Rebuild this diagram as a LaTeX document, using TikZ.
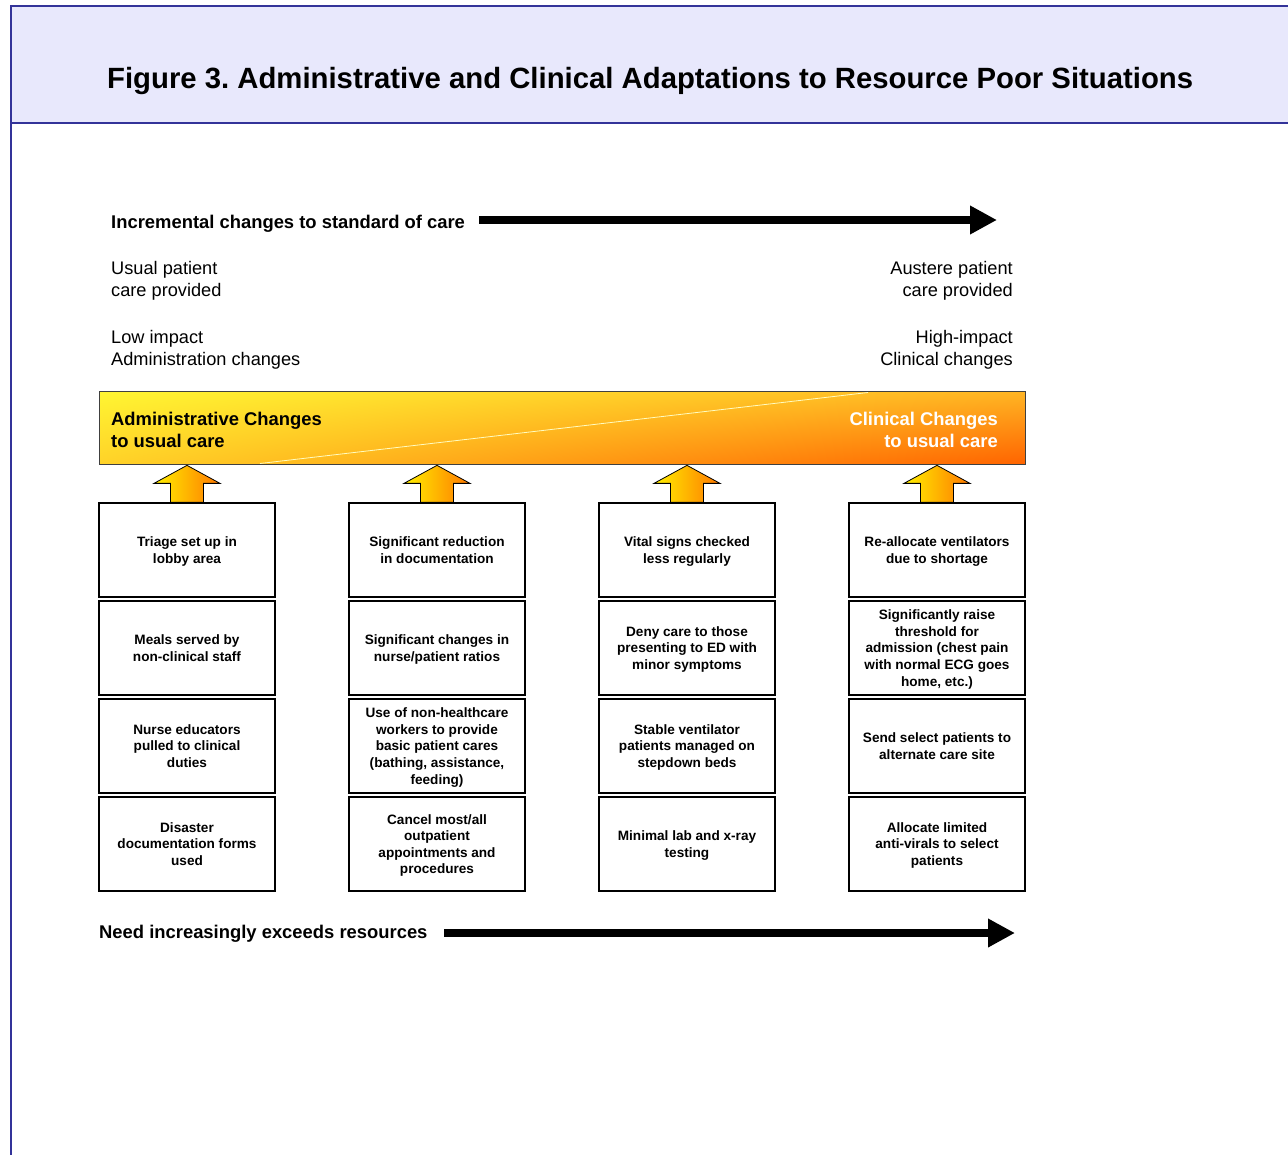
\documentclass[tikz,border=0pt]{standalone}
\usepackage{fontspec}
\setmainfont{Liberation Sans}
\usetikzlibrary{arrows.meta,shadings}
\frenchspacing
\definecolor{hdrfill}{RGB}{232,232,252}
\definecolor{hdrline}{RGB}{51,51,153}
\definecolor{yel}{RGB}{255,245,50}
\definecolor{yelor}{RGB}{255,210,40}
\definecolor{oryel}{RGB}{255,180,35}
\definecolor{orn}{RGB}{255,100,0}
\definecolor{arrY}{RGB}{255,240,0}
\definecolor{arrO}{RGB}{255,120,0}
\tikzset{
  cbox/.style={draw=black, line width=1.3pt, minimum width=176pt, minimum height=94pt,
    align=center, inner sep=0pt, text depth=0pt, font=\fontsize{13.6}{16.6}\selectfont\bfseries},
  lbl/.style={anchor=base west, inner sep=0pt, font=\fontsize{18.2}{22}\selectfont},
  rlbl/.style={anchor=base east, inner sep=0pt, font=\fontsize{18.2}{22}\selectfont},
  bnr/.style={inner sep=0pt, font=\fontsize{18.4}{22}\selectfont\bfseries},
  blockarrow/.style={draw=black, line width=0.8pt, left color=arrY, right color=arrO},
  bigarrow/.style={line width=8pt, -{Triangle[length=27pt,width=27pt]}}
}
\begin{document}
\begin{tikzpicture}[x=1pt,y=-1pt]
\useasboundingbox (0,0) rectangle (1288,1155);
% header
\fill[hdrfill] (11,6) rectangle (1300,123);
\draw[hdrline, line width=2pt] (1300,6) -- (11,6) -- (11,1160);
\draw[hdrline, line width=2pt] (11,123) -- (1300,123);
\node (title) [anchor=base west, inner sep=0pt, font=\fontsize{29.3}{32}\selectfont\bfseries] at (107,89)
  {Figure 3. Administrative and Clinical Adaptations to Resource Poor Situations};
% top labels
\node (inc) [anchor=base west, inner sep=0pt, font=\fontsize{18.4}{22}\selectfont\bfseries] at (111,229)
  {Incremental changes to standard of care};
\coordinate (ta1) at (479,220);
\coordinate (ta2) at (997,220);
\draw[bigarrow] (ta1) -- (ta2);
\node (u1) [lbl] at (111,275) {Usual patient};
\node (u2) [lbl] at (111,297) {care provided};
\node (l1) [lbl] at (111,344) {Low impact};
\node (l2) [lbl] at (111,366) {Administration changes};
\node (a1) [rlbl] at (1013,275) {Austere patient};
\node (a2) [rlbl] at (1013,297) {care provided};
\node (h1) [rlbl] at (1013,344) {High-impact};
\node (h2) [rlbl] at (1013,366) {Clinical changes};
% banner
\shade[upper left=yel, upper right=oryel, lower left=yelor, lower right=orn] (99,392) rectangle (1025,464);
\node (banner) [draw=black!75, line width=1pt, minimum width=926pt, minimum height=72pt, inner sep=0pt] at (562,428) {};
\draw[white!75!yellow, line width=0.8pt] (260,463.5) -- (868,392.5);
\node (adm) [bnr, anchor=base west] at (111,425) {Administrative Changes};
\node (adm2) [bnr, anchor=base west] at (111,447) {to usual care};
\node (cli) [bnr, anchor=base east, text=white] at (998,425) {Clinical Changes};
\node (cli2) [bnr, anchor=base east, text=white] at (998,447) {to usual care};
% boxes column 1
\node (b11) [cbox] at (187,550) {Triage set up in\\lobby area};
\node (b12) [cbox] at (187,648) {Meals served by\\non-clinical staff};
\node (b13) [cbox] at (187,746) {Nurse educators\\pulled to clinical\\duties};
\node (b14) [cbox] at (187,844) {Disaster\\documentation forms\\used};
% column 2
\node (b21) [cbox] at (437,550) {Significant reduction\\in documentation};
\node (b22) [cbox] at (437,648) {Significant changes in\\nurse/patient ratios};
\node (b23) [cbox] at (437,746) {Use of non-healthcare\\workers to provide\\basic patient cares\\(bathing, assistance,\\feeding)};
\node (b24) [cbox] at (437,844) {Cancel most/all\\outpatient\\appointments and\\procedures};
% column 3
\node (b31) [cbox] at (687,550) {Vital signs checked\\less regularly};
\node (b32) [cbox] at (687,648) {Deny care to those\\presenting to ED with\\minor symptoms};
\node (b33) [cbox] at (687,746) {Stable ventilator\\patients managed on\\stepdown beds};
\node (b34) [cbox] at (687,844) {Minimal lab and x-ray\\testing};
% column 4
\node (b41) [cbox] at (937,550) {Re-allocate ventilators\\due to shortage};
\node (b42) [cbox] at (937,648) {Significantly raise\\threshold for\\admission (chest pain\\with normal ECG goes\\home, etc.)};
\node (b43) [cbox] at (937,746) {Send select patients to\\alternate care site};
\node (b44) [cbox] at (937,844) {Allocate limited\\anti-virals to select\\patients};
% block arrows
\foreach \b in {b11,b21,b31,b41}{
  \shade[blockarrow] ([xshift=-16.5pt]\b.north) -- ++(0,-19) -- ++(-16.5,0)
    -- ++(33,-18) -- ++(33,18) -- ++(-16.5,0) -- ++(0,19) -- cycle;
}
% bottom
\node (need) [anchor=base west, inner sep=0pt, font=\fontsize{18.4}{22}\selectfont\bfseries] at (99,938)
  {Need increasingly exceeds resources};
\coordinate (ba1) at (444,933);
\coordinate (ba2) at (1015,933);
\draw[bigarrow] (ba1) -- (ba2);
\end{tikzpicture}
\end{document}
